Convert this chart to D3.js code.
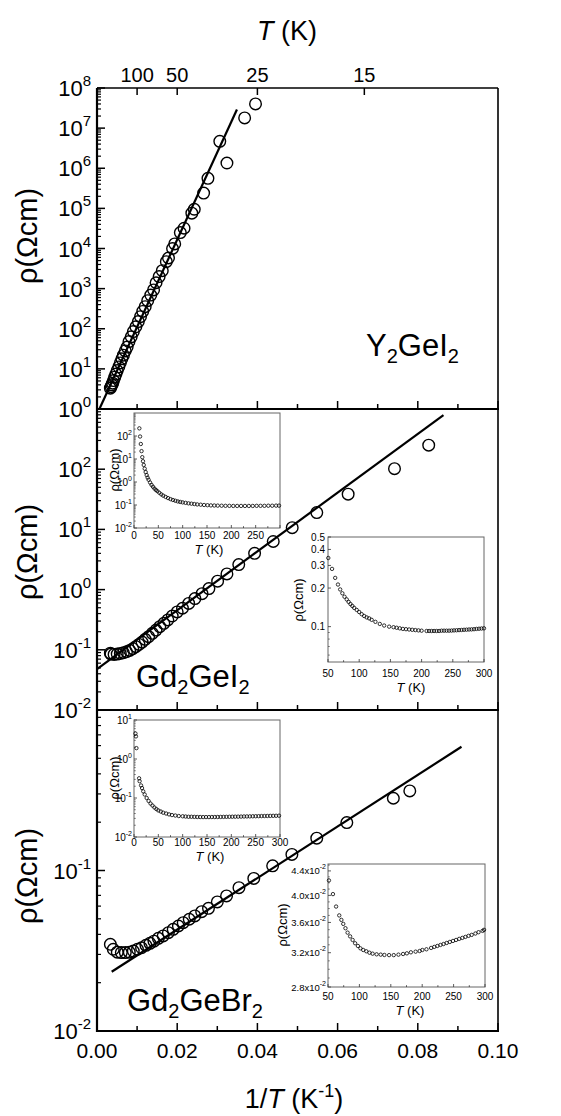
<!DOCTYPE html>
<html><head><meta charset="utf-8">
<script src="https://cdn.jsdelivr.net/npm/d3@7"></script>
<style>
body{margin:0;background:#fff}
text{font-family:Arial,"Liberation Sans",Helvetica,sans-serif;fill:#000}
</style>
</head><body>
<svg id="c" width="561" height="1116"></svg>
<script>
// ---------------- DATA ----------------
// main x axis: 1/T (K^-1); top axis T (K)
const xTickValues = [0, 0.02, 0.04, 0.06, 0.08, 0.10];
const xTickLabels = ["0.00", "0.02", "0.04", "0.06", "0.08", "0.10"];
const topTempTicks = [100, 50, 25, 15];

// Y2GeI2 : [1/T, rho]
const y2geI2 = [[0.00333,3.3],[0.0035,3.6],[0.0037,4.0],[0.0039,4.4],[0.00411,5.1],[0.00442,6.2],[0.00473,7.4],[0.00504,9.1],[0.00543,11.2],[0.00581,14.1],[0.0062,17.8],[0.00659,22],[0.00705,28],[0.00752,35],[0.00798,48],[0.00853,63],[0.00907,85],[0.00969,112],[0.01031,151],[0.01085,200],[0.0114,270],[0.01202,355],[0.01264,500],[0.01341,690],[0.01411,930],[0.01473,1400],[0.0155,2000],[0.01628,2800],[0.01729,4700],[0.01783,5800],[0.01884,10000],[0.01938,13000],[0.02078,25000],[0.02171,32000],[0.02365,76000],[0.02426,95000],[0.02659,240000],[0.02767,560000],[0.0324,1350000],[0.03062,4700000],[0.03682,18000000],[0.03953,40000000]];
const y2geI2Fit = [[0.0006,1.0],[0.0349,2.9e7]];

// Gd2GeI2 : [1/T, rho]
const gd2geI2 = [[0.00333,0.088],[0.00349,0.0849],[0.00426,0.0837],[0.00504,0.0849],[0.00581,0.0871],[0.00659,0.0893],[0.00736,0.0929],[0.00814,0.0977],[0.00891,0.1042],[0.00969,0.1125],[0.01047,0.123],[0.01124,0.1346],[0.01202,0.149],[0.01287,0.165],[0.0138,0.1875],[0.01473,0.213],[0.01566,0.242],[0.01667,0.275],[0.01767,0.313],[0.01876,0.364],[0.02,0.425],[0.02132,0.49],[0.02287,0.59],[0.02442,0.71],[0.0262,0.857],[0.02791,1.04],[0.03008,1.38],[0.0324,1.82],[0.03535,2.6],[0.0393,4.0],[0.04395,6.3],[0.04868,10.7],[0.05481,19],[0.06263,38.5],[0.07419,102],[0.08272,251]];
const gd2geI2Fit = [[0.0,0.048],[0.0864,794]];

// Gd2GeBr2 : [1/T, rho]
const gd2geBr2 = [[0.00333,0.0347],[0.00406,0.0323],[0.00506,0.031],[0.00606,0.0308],[0.00706,0.0308],[0.00805,0.031],[0.00905,0.0315],[0.0101,0.0323],[0.0111,0.033],[0.0122,0.0342],[0.0132,0.0352],[0.0142,0.0363],[0.0153,0.0378],[0.0165,0.0391],[0.0178,0.041],[0.019,0.043],[0.0203,0.0451],[0.0215,0.0473],[0.023,0.0497],[0.0244,0.0521],[0.0261,0.0554],[0.0278,0.0581],[0.03,0.0637],[0.0323,0.0694],[0.0354,0.0782],[0.0391,0.0893],[0.0438,0.107],[0.0486,0.126],[0.0548,0.159],[0.0623,0.199],[0.0739,0.282],[0.078,0.313]];
const gd2geBr2Fit = [[0.00366,0.0234],[0.0909,0.59]];

// Insets : [T (K), rho]
const gdI_full = [[11,215],[12.5,95],[14,45],[15.5,22],[17,12],[18.5,8],[20,5.5],[22,3.8],[24,2.7],[26,2.0],[28,1.55],[30,1.25],[33,0.95],[36,0.75],[39,0.62],[42,0.52],[45,0.45],[48,0.40],[52,0.34],[56,0.29],[60,0.255],[65,0.225],[70,0.2],[75,0.18],[80,0.165],[85,0.153],[90,0.143],[95,0.136],[100,0.13],[106,0.124],[112,0.118],[118,0.114],[124,0.11],[130,0.106],[137,0.103],[144,0.1],[151,0.098],[158,0.096],[165,0.095],[172,0.094],[180,0.093],[188,0.092],[196,0.092],[204,0.091],[212,0.091],[220,0.091],[228,0.091],[236,0.091],[244,0.091],[252,0.092],[260,0.092],[268,0.092],[276,0.093],[284,0.093],[292,0.094],[298,0.094]];
const gdI_zoom = [[50.5,0.343],[56.5,0.282],[61.5,0.240],[66,0.213],[69.5,0.195],[73,0.182],[76.5,0.171],[80,0.163],[83,0.156],[86,0.15],[89,0.145],[92,0.14],[96,0.135],[100,0.13],[104,0.125],[108,0.121],[112,0.118],[116,0.116],[120,0.113],[126,0.109],[133,0.105],[140,0.102],[148,0.1],[155,0.099],[160,0.098],[165,0.097],[170,0.096],[175,0.0955],[180,0.095],[185,0.0945],[190,0.094],[195,0.0935],[200,0.093],[208,0.0925],[212,0.0925],[216,0.0925],[220,0.0925],[224,0.0925],[228,0.0925],[232,0.093],[236,0.093],[240,0.093],[244,0.093],[248,0.0932],[252,0.0935],[256,0.0937],[260,0.094],[264,0.0942],[268,0.0945],[272,0.0947],[276,0.095],[280,0.0952],[284,0.0955],[288,0.096],[292,0.0963],[296,0.0967],[300,0.097]];
const gdBr_full = [[3,4.5],[4,3.8],[5,1.9],[10.5,0.32],[11.5,0.27],[14.5,0.21],[16.5,0.18],[19,0.148],[22,0.123],[26,0.1],[30,0.084],[34,0.072],[38,0.064],[42,0.057],[46,0.052],[50,0.048],[55,0.045],[60,0.042],[66,0.04],[72,0.038],[78,0.0365],[85,0.0355],[92,0.0345],[100,0.034],[106,0.0335],[112,0.033],[118,0.033],[124,0.0328],[130,0.0326],[136,0.0325],[142,0.0324],[148,0.0324],[154,0.0324],[160,0.0325],[166,0.0325],[172,0.0326],[178,0.0327],[184,0.0328],[190,0.0329],[196,0.033],[202,0.0331],[208,0.0332],[214,0.0333],[220,0.0334],[226,0.0336],[232,0.0337],[238,0.0338],[244,0.034],[250,0.0341],[256,0.0342],[262,0.0344],[268,0.0345],[274,0.0346],[280,0.0348],[286,0.0349],[292,0.035],[298,0.0352]];
const gdBr_zoom = [[51.5,0.0424],[57.9,0.0402],[62.9,0.0383],[67.9,0.037],[71.3,0.03636],[74.3,0.0358],[77.8,0.0352],[81.2,0.0346],[85.2,0.0341],[89.2,0.03363],[93.2,0.0332],[97.6,0.03285],[101.6,0.03255],[106.1,0.03234],[111,0.03218],[116,0.032],[121,0.03188],[127.4,0.0318],[133.9,0.03176],[139.8,0.03172],[147.3,0.0317],[154.7,0.0317],[162.2,0.03176],[169.6,0.03184],[175.6,0.03192],[182,0.03205],[189.5,0.03213],[195.9,0.03221],[200.3,0.03234],[206.8,0.03243],[214.2,0.0326],[219.2,0.03273],[224.1,0.03285],[229.1,0.03298],[234,0.0331],[239,0.03324],[244,0.03337],[249,0.0335],[253.9,0.03363],[258.9,0.03377],[263.9,0.0339],[268.8,0.03403],[273.8,0.03417],[278.8,0.0343],[284.7,0.03448],[289.7,0.03466],[296.1,0.03484],[298.5,0.03498]];
const gdBrZoomTicks = [0.028, 0.032, 0.036, 0.040, 0.044];
const gdBrZoomTickLabels = ["2.8x10", "3.2x10", "3.6x10", "4.0x10", "4.4x10"];
const gdIZoomTicks = [0.1, 0.2, 0.3, 0.4, 0.5];

// ---------------- DRAW ----------------
const svg = d3.select('#c');
const L = 97, R = 498;
const x = d3.scaleLinear().domain([0, 0.1]).range([L, R]);

function expText(g, px, py, base, exp, fs, es, rise, anchor) {
  const t = g.append('text').attr('x', px).attr('y', py)
    .attr('text-anchor', anchor).attr('font-size', fs);
  t.append('tspan').text(base);
  t.append('tspan').attr('font-size', es).attr('dy', -rise).text(exp);
  return t;
}

const panels = [
  {y0: 88, y1: 409, dom: [1, 1e8], exps: [0,1,2,3,4,5,6,7,8], data: y2geI2, fit: y2geI2Fit, ylabY: 236},
  {y0: 409, y1: 710, dom: [1e-2, 1e3], exps: [-2,-1,0,1,2], data: gd2geI2, fit: gd2geI2Fit, ylabY: 552},
  {y0: 710, y1: 1031, dom: [1e-2, 1], exps: [-2,-1], data: gd2geBr2, fit: gd2geBr2Fit, ylabY: 876}
];

const defs = svg.append('defs');
panels.forEach((p, i) => {
  p.y = d3.scaleLog().domain(p.dom).range([p.y1, p.y0]);
  defs.append('clipPath').attr('id', 'clip' + i).append('rect')
    .attr('x', L).attr('y', p.y0).attr('width', R - L).attr('height', p.y1 - p.y0);
  const g = svg.append('g');
  const lo = Math.round(Math.log10(p.dom[0])), hi = Math.round(Math.log10(p.dom[1]));
  for (let k = lo; k <= hi; k++) {
    const yy = p.y(Math.pow(10, k));
    g.append('line').attr('x1', L).attr('x2', L + 8).attr('y1', yy).attr('y2', yy).attr('stroke', '#000').attr('stroke-width', 1.5);
    if (k < hi) for (let m = 2; m <= 9; m++) {
      const ym = p.y(m * Math.pow(10, k));
      g.append('line').attr('x1', L).attr('x2', L + 4).attr('y1', ym).attr('y2', ym).attr('stroke', '#000').attr('stroke-width', 1.2);
    }
  }
  p.exps.forEach(k => {
    expText(g, 91, p.y(Math.pow(10, k)) + 8, '10', String(k), 22, 15, 10, 'end');
  });
  for (let v = 0.01; v < 0.1; v += 0.01) {
    const major = Math.round(v * 100) % 2 === 0;
    g.append('line').attr('x1', x(v)).attr('x2', x(v)).attr('y1', p.y1).attr('y2', p.y1 - (major ? 8 : 5))
      .attr('stroke', '#000').attr('stroke-width', 1.5);
  }
  g.append('path').datum(p.fit).attr('clip-path', 'url(#clip' + i + ')')
    .attr('d', d3.line().x(d => x(d[0])).y(d => p.y(d[1])))
    .attr('fill', 'none').attr('stroke', '#000').attr('stroke-width', 2.2);
  g.selectAll('circle.m').data(p.data).enter().append('circle')
    .attr('cx', d => x(d[0])).attr('cy', d => p.y(d[1])).attr('r', 5.8)
    .attr('fill', 'none').attr('stroke', '#000').attr('stroke-width', 1.4);
  svg.append('text').attr('transform', `translate(37,${p.ylabY}) rotate(-90)`)
    .attr('text-anchor', 'middle').attr('font-size', 29).text('ρ(Ωcm)');
});

// frame
const fr = svg.append('g').attr('stroke', '#000').attr('fill', 'none');
fr.append('line').attr('x1', L).attr('x2', L).attr('y1', 88).attr('y2', 1032).attr('stroke-width', 2.2);
fr.append('line').attr('x1', R).attr('x2', R).attr('y1', 88).attr('y2', 1032).attr('stroke-width', 1.6);
fr.append('line').attr('x1', L).attr('x2', R).attr('y1', 88).attr('y2', 88).attr('stroke-width', 1.6);
[409, 710, 1031].forEach(yy => fr.append('line').attr('x1', L - 1).attr('x2', R + 1).attr('y1', yy).attr('y2', yy).attr('stroke-width', 2.2));

// bottom x labels
xTickValues.forEach((v, i) => {
  svg.append('text').attr('x', x(v)).attr('y', 1058).attr('text-anchor', 'middle').attr('font-size', 21).text(xTickLabels[i]);
});
// top T ticks
topTempTicks.forEach(t => {
  const xx = x(1 / t);
  svg.append('line').attr('x1', xx).attr('x2', xx).attr('y1', 88).attr('y2', 95).attr('stroke', '#000').attr('stroke-width', 1.5);
  svg.append('text').attr('x', xx).attr('y', 82).attr('text-anchor', 'middle').attr('font-size', 20).text(t);
});

// titles
const tt = svg.append('text').attr('x', 287).attr('y', 40).attr('text-anchor', 'middle').attr('font-size', 27);
tt.append('tspan').attr('font-style', 'italic').text('T');
tt.append('tspan').text(' (K)');
const bt = svg.append('text').attr('x', 294).attr('y', 1108).attr('text-anchor', 'middle').attr('font-size', 27);
bt.append('tspan').text('1/');
bt.append('tspan').attr('font-style', 'italic').text('T');
bt.append('tspan').text(' (K');
bt.append('tspan').attr('font-size', 18).attr('dy', -11).text('-1');
bt.append('tspan').attr('dy', 11).text(')');

// compound labels
function formula(px, py, parts) {
  const t = svg.append('text').attr('x', px).attr('y', py).attr('font-size', 31);
  let sub = false;
  parts.forEach(pt => {
    const isSub = /^\d$/.test(pt);
    const s = t.append('tspan').text(pt);
    if (isSub && !sub) { s.attr('font-size', 20).attr('dy', 7); sub = true; }
    else if (!isSub && sub) { s.attr('dy', -7); sub = false; }
  });
}
formula(366, 356, ['Y', '2', 'GeI', '2']);
formula(136, 687, ['Gd', '2', 'GeI', '2']);
formula(127, 1011, ['Gd', '2', 'GeBr', '2']);

// ---------------- INSETS ----------------
function inset(o) {
  const g = svg.append('g');
  const xs = d3.scaleLinear().domain(o.xDom).range([o.x0, o.x1]);
  const ys = d3.scaleLog().domain(o.yDom).range([o.y1, o.y0]);
  g.append('rect').attr('x', o.x0).attr('y', o.y0).attr('width', o.x1 - o.x0).attr('height', o.y1 - o.y0)
    .attr('fill', '#fff').attr('stroke', '#666').attr('stroke-width', 1);
  o.yMajor.forEach(v => g.append('line').attr('x1', o.x0).attr('x2', o.x0 + 3).attr('y1', ys(v)).attr('y2', ys(v)).attr('stroke', '#333').attr('stroke-width', 0.8));
  o.yMinor.forEach(v => g.append('line').attr('x1', o.x0).attr('x2', o.x0 + 1.8).attr('y1', ys(v)).attr('y2', ys(v)).attr('stroke', '#333').attr('stroke-width', 0.6));
  for (let t = o.xDom[0]; t <= o.xDom[1]; t += 25) {
    const maj = t % 50 === 0;
    g.append('line').attr('x1', xs(t)).attr('x2', xs(t)).attr('y1', o.y1).attr('y2', o.y1 - (maj ? 3 : 1.8)).attr('stroke', '#333').attr('stroke-width', 0.8);
  }
  o.xLabels.forEach(t => g.append('text').attr('x', xs(t)).attr('y', o.xLabY).attr('text-anchor', 'middle').attr('font-size', 10).attr('fill', '#111').text(t));
  o.yLabelFn(g, ys);
  const tl = g.append('text').attr('x', o.tx).attr('y', o.xLabY + 15).attr('text-anchor', 'middle').attr('font-size', 13);
  tl.append('tspan').attr('font-style', 'italic').text('T');
  tl.append('tspan').text(' (K)');
  g.append('text').attr('transform', `translate(${o.rx + 5},${o.ry}) rotate(-90)`).attr('text-anchor', 'middle').attr('font-size', 13).text('ρ(Ωcm)');
  g.selectAll('circle').data(o.data).enter().append('circle')
    .attr('cx', d => xs(d[0])).attr('cy', d => ys(d[1])).attr('r', 1.7)
    .attr('fill', 'none').attr('stroke', '#000').attr('stroke-width', 0.8);
}
function logMinor(lo, hi) {
  const out = [];
  for (let k = lo; k < hi; k++) for (let m = 2; m <= 9; m++) out.push(m * Math.pow(10, k));
  return out;
}
function logLabels(exps, xr) {
  return (g, ys) => exps.forEach(k => expText(g, xr, ys(Math.pow(10, k)) + 3.5, '10', String(k), 10, 7, 5, 'end'));
}

inset({x0: 134, x1: 280, y0: 413, y1: 528, xDom: [0, 300], yDom: [1e-2, 1e3],
  yMajor: [1e-2, 1e-1, 1, 10, 100], yMinor: logMinor(-2, 3),
  xLabels: [0, 50, 100, 150, 200, 250], xLabY: 539, tx: 209, rx: 114, ry: 470,
  yLabelFn: logLabels([-2, -1, 0, 1, 2], 132), data: gdI_full});
inset({x0: 328, x1: 484, y0: 537, y1: 662, xDom: [50, 300], yDom: [0.053, 0.5],
  yMajor: gdIZoomTicks, yMinor: [0.06, 0.07, 0.08, 0.09],
  xLabels: [50, 100, 150, 200, 250, 300], xLabY: 677, tx: 411, rx: 298, ry: 600,
  yLabelFn: (g, ys) => gdIZoomTicks.forEach(v => g.append('text').attr('x', 325).attr('y', ys(v) + 3.5).attr('text-anchor', 'end').attr('font-size', 10).text(v)),
  data: gdI_zoom});
inset({x0: 134, x1: 280, y0: 720, y1: 837, xDom: [0, 300], yDom: [1e-2, 10],
  yMajor: [1e-2, 1e-1, 1, 10], yMinor: logMinor(-2, 1),
  xLabels: [0, 50, 100, 150, 200, 250, 300], xLabY: 846, tx: 210, rx: 114, ry: 778,
  yLabelFn: logLabels([-2, -1, 0, 1], 132), data: gdBr_full});
inset({x0: 328, x1: 485, y0: 864, y1: 987, xDom: [50, 300], yDom: [0.028, 0.0452],
  yMajor: gdBrZoomTicks, yMinor: [0.029, 0.030, 0.031, 0.033, 0.034, 0.035, 0.037, 0.038, 0.039, 0.041, 0.042, 0.043, 0.045],
  xLabels: [50, 100, 150, 200, 250, 300], xLabY: 1000, tx: 410, rx: 282, ry: 925,
  yLabelFn: (g, ys) => gdBrZoomTicks.forEach((v, i) => expText(g, 326, ys(v) + 3.5, gdBrZoomTickLabels[i], '-2', 9.5, 7, 5, 'end')),
  data: gdBr_zoom});
</script>
</body></html>
